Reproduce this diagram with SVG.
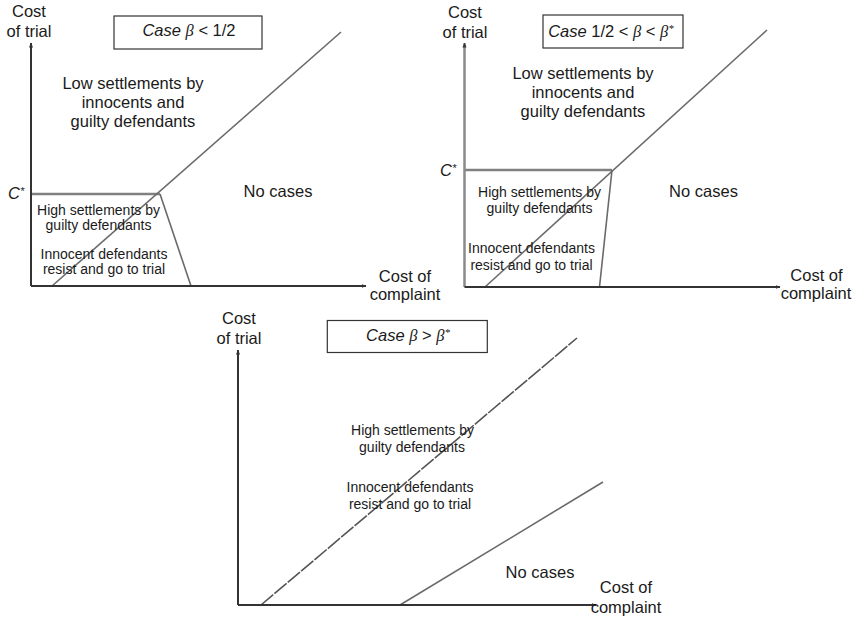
<svg xmlns="http://www.w3.org/2000/svg" width="858" height="626" viewBox="0 0 858 626">
<style>
  text { font-family: "Liberation Sans", Arial, sans-serif; fill: #1a1a1a; }
  .lbl { font-size: 16.5px; text-anchor: middle; }
  .sm { font-size: 14px; text-anchor: middle; }
  .it { font-style: italic; }
  .gr { font-family: "Liberation Serif", "DejaVu Serif", serif; font-style: italic; }
  .axis { stroke: #333; stroke-width: 2; fill: none; }
  .axis2 { stroke: #8a8a8a; stroke-width: 2.5; fill: none; }
  .cstar { stroke: #808080; stroke-width: 2.5; fill: none; }
  .bound { stroke: #6a6a6a; stroke-width: 1.6; fill: none; }
  .dash { stroke: #555; stroke-width: 1.6; fill: none; stroke-dasharray: 16 1.5; }
  .box { fill: #fff; stroke: #333; stroke-width: 1.2; }
</style>
<defs>
  <marker id="arr" viewBox="0 0 10 10" refX="9" refY="5" markerWidth="5" markerHeight="5" orient="auto" markerUnits="userSpaceOnUse">
    <path d="M0,1 L10,5 L0,9 z" fill="#333"/>
  </marker>
</defs>

<!-- Panel 1 -->
<g id="panel1">
  <g id="p1-connectors">
    <line class="cstar" x1="31" y1="194" x2="160" y2="194"/>
    <line class="bound" x1="52" y1="286" x2="341" y2="32"/>
    <line class="bound" x1="160" y1="194" x2="191" y2="286"/>
    <line class="axis" x1="31" y1="286" x2="31" y2="43" marker-end="url(#arr)"/>
    <line class="axis" x1="31" y1="286" x2="366" y2="286" marker-end="url(#arr)"/>
  </g>
  <g id="p1-title">
    <rect class="box" x="114" y="16" width="148" height="33"/>
    <text class="lbl" x="189" y="36"><tspan class="it">Case</tspan> <tspan class="gr">β</tspan> &lt; 1/2</text>
  </g>
  <g id="p1-yaxis-label">
    <text class="lbl" x="29" y="17">Cost</text>
    <text class="lbl" x="29" y="37">of trial</text>
  </g>
  <g id="p1-xaxis-label">
    <text class="lbl" x="405" y="281.5">Cost of</text>
    <text class="lbl" x="405" y="300">complaint</text>
  </g>
  <g id="p1-cstar">
    <text x="8" y="199" style="font-size:16.5px"><tspan class="it">C</tspan><tspan class="it" style="font-size:11px" dy="-4">*</tspan></text>
  </g>
  <g id="p1-low">
    <text class="lbl" x="133" y="89">Low settlements by</text>
    <text class="lbl" x="133" y="108">innocents and</text>
    <text class="lbl" x="133" y="127">guilty defendants</text>
  </g>
  <g id="p1-nocases">
    <text class="lbl" x="278" y="197">No cases</text>
  </g>
  <g id="p1-high">
    <text class="sm" x="98.5" y="215">High settlements by</text>
    <text class="sm" x="98.5" y="230">guilty defendants</text>
  </g>
  <g id="p1-innocent">
    <text class="sm" x="104" y="259">Innocent defendants</text>
    <text class="sm" x="104" y="274">resist and go to trial</text>
  </g>
</g>

<!-- Panel 2 -->
<g id="panel2">
  <g id="p2-connectors">
    <line class="cstar" x1="464.5" y1="170" x2="612" y2="170"/>
    <line class="bound" x1="485" y1="287" x2="767" y2="30"/>
    <line class="bound" x1="612" y1="170" x2="599.5" y2="287"/>
    <line class="axis2" x1="464.5" y1="287" x2="464.5" y2="43" marker-end="url(#arr)"/>
    <line class="axis" x1="464.5" y1="287" x2="780" y2="287" marker-end="url(#arr)"/>
  </g>
  <g id="p2-title">
    <rect class="box" x="543" y="15" width="140" height="33"/>
    <text class="lbl" x="611" y="36.5"><tspan class="it">Case</tspan> 1/2 &lt; <tspan class="gr">β</tspan> &lt; <tspan class="gr">β</tspan><tspan class="gr" style="font-size:11px" dy="-5">*</tspan></text>
  </g>
  <g id="p2-yaxis-label">
    <text class="lbl" x="465" y="18">Cost</text>
    <text class="lbl" x="465" y="37.5">of trial</text>
  </g>
  <g id="p2-xaxis-label">
    <text class="lbl" x="816.5" y="280.5">Cost of</text>
    <text class="lbl" x="816" y="299.3">complaint</text>
  </g>
  <g id="p2-cstar">
    <text x="440" y="176" style="font-size:16.5px"><tspan class="it">C</tspan><tspan class="it" style="font-size:11px" dy="-4">*</tspan></text>
  </g>
  <g id="p2-low">
    <text class="lbl" x="583" y="79">Low settlements by</text>
    <text class="lbl" x="583" y="98">innocents and</text>
    <text class="lbl" x="583" y="117">guilty defendants</text>
  </g>
  <g id="p2-nocases">
    <text class="lbl" x="703.5" y="197">No cases</text>
  </g>
  <g id="p2-high">
    <text class="sm" x="539.5" y="197">High settlements by</text>
    <text class="sm" x="539.5" y="213">guilty defendants</text>
  </g>
  <g id="p2-innocent">
    <text class="sm" x="531.5" y="253">Innocent defendants</text>
    <text class="sm" x="531.5" y="270">resist and go to trial</text>
  </g>
</g>

<!-- Panel 3 -->
<g id="panel3">
  <g id="p3-connectors">
    <line class="dash" x1="261" y1="605" x2="577" y2="338"/>
    <line class="bound" x1="400" y1="605" x2="603" y2="482"/>
    <line class="axis" x1="238" y1="605" x2="238" y2="350" marker-end="url(#arr)"/>
    <line class="axis" x1="238" y1="605" x2="596" y2="605" marker-end="url(#arr)"/>
  </g>
  <g id="p3-title">
    <rect class="box" x="327.3" y="320.5" width="160" height="32"/>
    <text class="lbl" x="408" y="341"><tspan class="it">Case</tspan> <tspan class="gr">β</tspan> &gt; <tspan class="gr">β</tspan><tspan class="gr" style="font-size:11px" dy="-5">*</tspan></text>
  </g>
  <g id="p3-yaxis-label">
    <text class="lbl" x="239" y="324">Cost</text>
    <text class="lbl" x="239" y="344">of trial</text>
  </g>
  <g id="p3-xaxis-label">
    <text class="lbl" x="626" y="593">Cost of</text>
    <text class="lbl" x="626" y="613">complaint</text>
  </g>
  <g id="p3-high">
    <text class="sm" x="412.5" y="435">High settlements by</text>
    <text class="sm" x="412" y="451.5">guilty defendants</text>
  </g>
  <g id="p3-innocent">
    <text class="sm" x="410" y="492">Innocent defendants</text>
    <text class="sm" x="410" y="508.5">resist and go to trial</text>
  </g>
  <g id="p3-nocases">
    <text class="lbl" x="540" y="578">No cases</text>
  </g>
</g>
</svg>
